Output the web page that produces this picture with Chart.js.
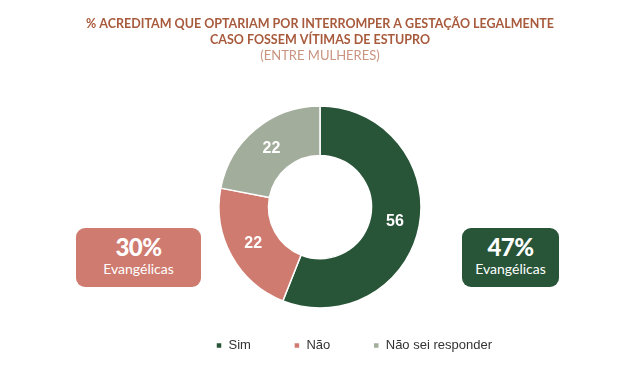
<!DOCTYPE html>
<html>
<head>
<meta charset="utf-8">
<script src="https://cdn.jsdelivr.net/npm/chart.js@4"></script>
<style>
  html, body { margin: 0; padding: 0; background: #fff; }
  #wrap { position: relative; width: 632px; height: 386px; }
  .badge {
    position: absolute; top: 228px; height: 59px; border-radius: 9px;
    color: #fff; text-align: center; font-family: Lato, "Open Sans", sans-serif;
  }
  .badge .big { font-size: 24px; font-weight: 900; line-height: 26px; margin-top: 6px; letter-spacing: -0.5px; }
  .badge .small { font-size: 14px; line-height: 18px; }
</style>
</head>
<body>
<div id="wrap">
  <canvas id="donut" width="632" height="386"></canvas>
  <div class="badge" id="badgeLeft" style="left:76px; width:125px; background:#cf7b6f;">
    <div class="big">30%</div><div class="small">Evangélicas</div>
  </div>
  <div class="badge" id="badgeRight" style="left:462px; width:97px; background:#285538;">
    <div class="big">47%</div><div class="small">Evangélicas</div>
  </div>
</div>
<script>
const categories = ["Sim", "Não", "Não sei responder"];
const values = [56, 22, 22];
const colors = ["#285538", "#cf7b6f", "#a3ad9c"];

// numbers written in the middle of each slice
const sliceLabels = {
  id: "sliceLabels",
  afterDatasetsDraw(chart) {
    const ctx = chart.ctx;
    const meta = chart.getDatasetMeta(0);
    ctx.save();
    ctx.fillStyle = "#ffffff";
    ctx.font = "bold 16px 'Liberation Sans', Arial, sans-serif";
    ctx.textAlign = "center";
    ctx.textBaseline = "middle";
    meta.data.forEach((arc, i) => {
      const pos = arc.tooltipPosition();
      ctx.fillText(values[i], pos.x, pos.y);
    });
    ctx.restore();
  }
};

// the legend sits a bit right of centre and closer to the donut
const moveLegend = {
  id: "moveLegend",
  afterLayout(chart) {
    const lg = chart.legend;
    lg.left += 34; lg.right += 34;
    lg.top -= 24; lg.bottom -= 24;
  }
};

const ctx = document.getElementById("donut").getContext("2d");
new Chart(ctx, {
  type: "doughnut",
  data: {
    labels: categories,
    datasets: [{
      data: values,
      backgroundColor: colors,
      borderColor: "#ffffff",
      borderWidth: 1.5
    }]
  },
  options: {
    responsive: false,
    animation: false,
    cutout: "51%",
    radius: 101,
    layout: { padding: { left: 8, right: 0, top: 0, bottom: 0 } },
    plugins: {
      title: {
        display: true,
        text: ["% ACREDITAM QUE OPTARIAM POR INTERROMPER A GESTAÇÃO LEGALMENTE", "CASO FOSSEM VÍTIMAS DE ESTUPRO"],
        color: "#a85a3c",
        font: { family: "Lato, 'Open Sans', sans-serif", size: 12.5, weight: "bold", lineHeight: 1.3 },
        padding: { top: 16, bottom: 0 }
      },
      subtitle: {
        display: true,
        text: "(ENTRE MULHERES)",
        color: "#c99480",
        font: { family: "Lato, 'Open Sans', sans-serif", size: 13, weight: "normal" },
        padding: { top: 0, bottom: 30 }
      },
      legend: {
        position: "bottom",
        labels: {
          boxWidth: 6,
          boxHeight: 6,
          padding: 43,
          color: "#333333",
          font: { family: "'Liberation Sans', Arial, sans-serif", size: 13 }
        }
      },
      tooltip: { enabled: false }
    }
  },
  plugins: [sliceLabels, moveLegend]
});
</script>
</body>
</html>
